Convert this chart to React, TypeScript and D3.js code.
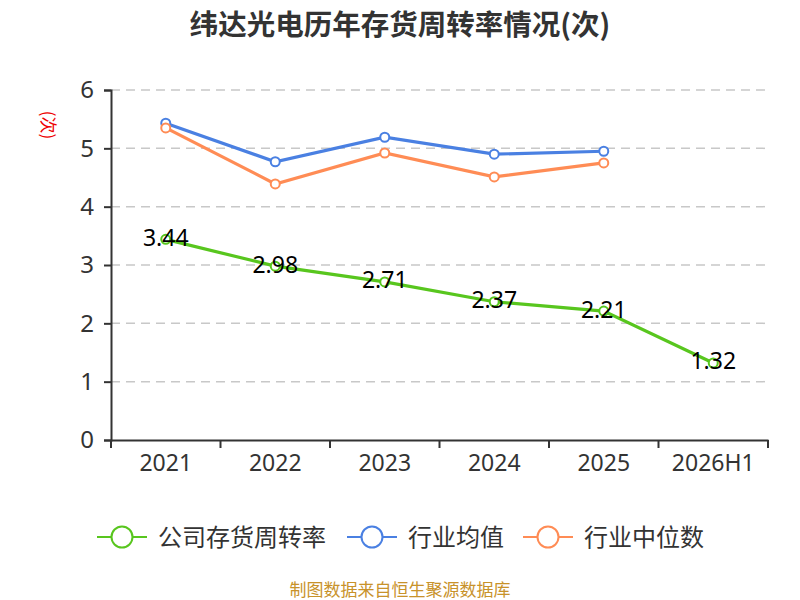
import React, { useEffect, useRef } from "react";
import * as d3 from "d3";

const width = 800;
const height = 600;

const categories = ["2021", "2022", "2023", "2024", "2025", "2026H1"];
const companyRate = [3.44, 2.98, 2.71, 2.37, 2.21, 1.32];
const industryMean = [5.43, 4.77, 5.19, 4.9, 4.95];
const industryMedian = [5.35, 4.39, 4.92, 4.51, 4.75];
const yTicks = [0, 1, 2, 3, 4, 5, 6];

const seriesList = [
  { name: "行业均值", values: industryMean, color: "#4a80e2", labels: false },
  { name: "行业中位数", values: industryMedian, color: "#ff8c55", labels: false },
  { name: "公司存货周转率", values: companyRate, color: "#58c61e", labels: true },
];
const legendOrder = ["公司存货周转率", "行业均值", "行业中位数"];

const margin = { top: 90, right: 32, bottom: 160, left: 111 };
const numFont = "'Noto Sans', 'Open Sans', sans-serif";
const cjkFont = "'Noto Sans CJK SC', 'Noto Sans', sans-serif";

const App: React.FC = () => {
  const svgRef = useRef<SVGSVGElement | null>(null);

  useEffect(() => {
    if (!svgRef.current) return;
    const svg = d3.select(svgRef.current);
    svg.selectAll("*").remove();

    const x = d3
      .scaleBand()
      .domain(categories)
      .range([margin.left, width - margin.right]);
    const y = d3
      .scaleLinear()
      .domain([0, 6])
      .range([height - margin.bottom, margin.top]);

    // title
    svg
      .append("text")
      .attr("x", 400)
      .attr("y", 22)
      .attr("dominant-baseline", "central")
      .attr("text-anchor", "middle")
      .attr("font-family", cjkFont)
      .attr("font-weight", "bold")
      .attr("font-size", 28.5)
      .attr("fill", "#333")
      .text("纬达光电历年存货周转率情况(次)");

    // unit label
    svg
      .append("text")
      .attr("transform", "translate(49,125) rotate(90)")
      .attr("text-anchor", "middle")
      .attr("dominant-baseline", "central")
      .attr("font-family", cjkFont)
      .attr("font-size", 17)
      .attr("fill", "#ee0000")
      .text("(次)");

    // grid
    svg
      .append("g")
      .selectAll("line")
      .data(yTicks.filter((t) => t > 0))
      .enter()
      .append("line")
      .attr("x1", margin.left)
      .attr("x2", width - margin.right)
      .attr("y1", (d) => y(d))
      .attr("y2", (d) => y(d))
      .attr("stroke", "#c8c8c8")
      .attr("stroke-width", 1.5)
      .attr("stroke-dasharray", "9,6");

    // y axis
    const yAxis = svg
      .append("g")
      .attr("transform", `translate(${margin.left},0)`)
      .call(
        d3
          .axisLeft(y)
          .tickValues(yTicks)
          .tickFormat(d3.format("d"))
          .tickSize(7)
          .tickPadding(10)
      );
    yAxis.select(".domain").attr("stroke", "#333").attr("stroke-width", 2);
    yAxis.selectAll(".tick line").attr("stroke", "#333").attr("stroke-width", 2);
    yAxis
      .selectAll(".tick text")
      .attr("font-family", numFont)
      .attr("font-size", 24)
      .attr("fill", "#333");

    // x axis
    const xAxis = svg
      .append("g")
      .attr("transform", `translate(0,${height - margin.bottom})`)
      .call(d3.axisBottom(x).tickSize(0).tickPadding(15));
    xAxis.select(".domain").attr("stroke", "#333").attr("stroke-width", 2);
    xAxis
      .selectAll(".tick text")
      .attr("font-family", numFont)
      .attr("font-size", 23)
      .attr("fill", "#333");
    xAxis
      .selectAll("line.boundary")
      .data(d3.range(categories.length + 1))
      .enter()
      .append("line")
      .attr("class", "boundary")
      .attr("x1", (i) => margin.left + i * x.step())
      .attr("x2", (i) => margin.left + i * x.step())
      .attr("y1", 0)
      .attr("y2", 8)
      .attr("stroke", "#333")
      .attr("stroke-width", 2);

    const cx = (i: number) => (x(categories[i]) ?? 0) + x.bandwidth() / 2;
    const line = d3
      .line<number>()
      .x((_, i) => cx(i))
      .y((d) => y(d));

    seriesList.forEach((s) => {
      const g = svg.append("g");
      g.append("path")
        .attr("d", line(s.values))
        .attr("fill", "none")
        .attr("stroke", s.color)
        .attr("stroke-width", 3.2);
      g.selectAll("circle")
        .data(s.values)
        .enter()
        .append("circle")
        .attr("cx", (_, i) => cx(i))
        .attr("cy", (d) => y(d))
        .attr("r", 4.5)
        .attr("fill", "#fff")
        .attr("stroke", s.color)
        .attr("stroke-width", 2);
      if (s.labels) {
        g.selectAll("text")
          .data(s.values)
          .enter()
          .append("text")
          .attr("x", (_, i) => cx(i))
          .attr("y", (d) => y(d))
          .attr("dy", "0.28em")
          .attr("text-anchor", "middle")
          .attr("font-family", numFont)
          .attr("font-size", 23)
          .attr("fill", "#000")
          .text((d) => d.toFixed(2));
      }
    });

    // legend
    const legendX = [97, 347, 523];
    const legend = svg.append("g");
    legendOrder.forEach((name, i) => {
      const s = seriesList.find((d) => d.name === name)!;
      const lg = legend.append("g").attr("transform", `translate(${legendX[i]},537)`);
      lg.append("line")
        .attr("x1", 0)
        .attr("x2", 50)
        .attr("stroke", s.color)
        .attr("stroke-width", 2);
      lg.append("circle")
        .attr("cx", 25)
        .attr("r", 10.5)
        .attr("fill", "#fff")
        .attr("stroke", s.color)
        .attr("stroke-width", 2);
      lg.append("text")
        .attr("x", 61)
        .attr("dy", "0.36em")
        .attr("font-family", cjkFont)
        .attr("font-size", 24)
        .attr("fill", "#333")
        .text(name);
    });

    // source
    svg
      .append("text")
      .attr("x", 400)
      .attr("y", 596)
      .attr("text-anchor", "middle")
      .attr("font-family", cjkFont)
      .attr("font-size", 17)
      .attr("fill", "#c8922a")
      .text("制图数据来自恒生聚源数据库");

    return () => {
      svg.selectAll("*").remove();
    };
  }, []);

  return (
    <svg
      ref={svgRef}
      width={width}
      height={height}
      style={{ position: "absolute", left: 0, top: 0, background: "#fff" }}
    />
  );
};

export default App;
